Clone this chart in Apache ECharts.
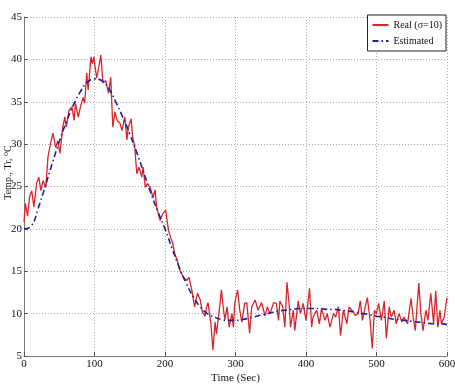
<!DOCTYPE html>
<html>
<head>
<meta charset="utf-8">
<script src="https://cdn.jsdelivr.net/npm/echarts@6/dist/echarts.min.js"></script>
<style>
  html, body { margin: 0; padding: 0; background: #fff; }
  #chart { width: 455px; height: 387px; }
</style>
</head>
<body>
<div id="chart"></div>
<script>
// measured temperature (noisy), time in seconds
const realTime = [
  0, 2, 5, 8, 11, 14, 18, 21, 24, 27, 31, 34, 38, 41, 45, 48, 51, 55, 58, 60,
  64, 68, 71, 73, 77, 80, 84, 86, 89, 91, 95, 97, 99, 103, 105, 109, 112, 116, 120, 123,
  126, 129, 132, 136, 139, 143, 146, 148, 152, 154, 157, 160, 163, 167, 169, 172, 175, 179, 183, 186,
  188, 193, 197, 201, 205, 208, 211, 214, 217, 221, 226, 231, 234, 238, 242, 246, 250, 253, 257, 259,
  261, 265, 268, 271, 273, 277, 280, 283, 285, 288, 291, 295, 297, 299, 303, 306, 309, 313, 316, 320,
  323, 328, 332, 337, 342, 345, 349, 354, 358, 361, 363, 367, 370, 373, 376, 378, 382, 384, 389, 392,
  396, 400, 405, 408, 410, 415, 419, 422, 427, 430, 434, 439, 442, 446, 449, 453, 458, 461, 465, 470,
  474, 477, 480, 484, 487, 491, 494, 497, 500, 503, 507, 511, 514, 518, 521, 525, 528, 532, 536, 539,
  544, 549, 552, 555, 560, 563, 566, 570, 573, 577, 581, 584, 587, 590, 592, 596, 600
];
const realTemp = [
  20.8, 23.0, 21.5, 23.8, 24.5, 22.6, 25.4, 26.1, 24.5, 25.7, 24.9, 28.5, 30.2, 31.3, 29.6, 30.4, 28.9, 32.0, 33.2, 32.0,
  34.0, 34.4, 32.8, 34.8, 33.2, 34.4, 35.5, 34.8, 38.4, 36.4, 40.3, 39.5, 40.3, 37.8, 38.6, 40.5, 37.2, 37.5, 36.0, 37.9,
  32.0, 33.8, 32.8, 32.5, 31.6, 33.2, 30.5, 32.0, 33.0, 30.9, 29.7, 26.5, 27.3, 26.1, 27.3, 24.9, 25.3, 24.9, 23.7, 24.6,
  22.6, 21.0, 21.8, 22.2, 19.8, 19.0, 18.3, 17.0, 16.4, 15.1, 14.3, 13.9, 14.3, 12.8, 10.8, 12.4, 11.6, 10.2, 9.7, 10.8,
  11.3, 8.9, 5.7, 9.0, 7.6, 10.4, 12.8, 10.4, 9.3, 10.8, 8.4, 10.0, 8.4, 11.3, 12.8, 10.4, 9.0, 11.2, 11.3, 7.7,
  10.8, 11.6, 10.4, 11.3, 9.7, 10.8, 10.0, 11.3, 11.2, 9.2, 11.5, 10.8, 8.4, 13.7, 11.2, 8.4, 10.4, 8.0, 11.5, 10.0,
  11.2, 9.2, 13.0, 8.4, 9.6, 10.4, 8.8, 10.6, 9.2, 10.0, 8.4, 10.0, 9.6, 10.8, 7.4, 10.4, 8.8, 10.8, 10.4, 9.8,
  10.0, 11.5, 9.2, 10.8, 11.9, 9.2, 5.9, 10.4, 10.0, 11.2, 9.2, 11.5, 7.1, 10.8, 9.6, 10.4, 8.8, 10.0, 9.0, 9.6,
  8.8, 11.8, 9.6, 8.0, 13.6, 10.0, 8.0, 10.4, 9.2, 12.4, 8.8, 12.7, 8.4, 10.4, 8.8, 9.6, 11.9
];

// estimated temperature
const estTime = [
  0, 10, 20, 30, 40, 50, 60, 70, 80, 90, 100, 110, 120, 130, 140, 150, 160, 170, 180, 190,
  200, 210, 220, 230, 240, 250, 260, 270, 280, 290, 300, 310, 320, 330, 340, 350, 360, 370, 380, 390,
  400, 410, 420, 430, 440, 450, 460, 470, 480, 490, 500, 510, 520, 530, 540, 550, 560, 570, 580, 590, 600
];
const estTemp = [
  20.0, 20.3, 22.4, 25.0, 27.7, 30.3, 32.6, 34.6, 36.2, 37.3, 37.7, 37.5, 36.6, 35.0, 33.2, 31.2, 29.0, 26.6, 24.2, 22.0,
  20.0, 17.7, 15.5, 13.6, 12.0, 10.8, 10.0, 9.6, 9.3, 9.2, 9.2, 9.3, 9.5, 9.7, 9.9, 10.1, 10.3, 10.4, 10.5, 10.6,
  10.6, 10.6, 10.6, 10.5, 10.5, 10.4, 10.3, 10.2, 10.0, 9.9, 9.7, 9.6, 9.4, 9.3, 9.2, 9.1, 9.0, 8.9, 8.8, 8.8, 8.7
];

const xTicks = [0, 100, 200, 300, 400, 500, 600];
const yTicks = [5, 10, 15, 20, 25, 30, 35, 40, 45];

const chart = echarts.init(document.getElementById('chart'));
const serif = '"Liberation Serif", "DejaVu Serif", serif';

const gridLine = { show: true, lineStyle: { color: '#a8a8a8', type: [1, 2], width: 1 } };
const axisLine = { show: true, lineStyle: { color: '#7a7a7a', width: 1 } };

chart.setOption({
  animation: false,
  backgroundColor: '#fff',
  grid: { left: 24, right: 8, top: 17, bottom: 31, containLabel: false, outerBoundsMode: 'none' },
  legend: {
    orient: 'vertical',
    right: 9,
    top: 15,
    itemWidth: 16,
    itemHeight: 8,
    itemGap: 6,
    padding: [5, 4, 5, 4],
    backgroundColor: '#fff',
    borderColor: '#222',
    borderWidth: 1,
    itemStyle: { opacity: 0 },
    textStyle: { fontFamily: serif, fontSize: 10, color: '#111' },
    data: ['Real (σ=10)', 'Estimated']
  },
  xAxis: {
    type: 'value',
    min: xTicks[0],
    max: xTicks[xTicks.length - 1],
    interval: 100,
    name: 'Time (Sec)',
    nameLocation: 'middle',
    nameGap: 17,
    nameMoveOverlap: false,
    nameTextStyle: { fontFamily: serif, fontSize: 11, color: '#111' },
    axisLine: axisLine,
    axisTick: { show: true, inside: true, length: 4, lineStyle: { color: '#555' } },
    axisLabel: { fontFamily: serif, fontSize: 11, color: '#111', margin: 3 },
    splitLine: gridLine
  },
  yAxis: {
    type: 'value',
    min: yTicks[0],
    max: yTicks[yTicks.length - 1],
    interval: 5,
    name: 'Temp., Tr, ⁰C',
    nameLocation: 'middle',
    nameGap: 11,
    nameMoveOverlap: false,
    nameTextStyle: { fontFamily: serif, fontSize: 10, color: '#111', padding: [0, 0, 0, 28] },
    axisLine: axisLine,
    axisTick: { show: true, inside: true, length: 4, lineStyle: { color: '#555' } },
    axisLabel: { fontFamily: serif, fontSize: 11, color: '#111', margin: 2 },
    splitLine: gridLine
  },
  series: [
    {
      name: 'Real (σ=10)',
      type: 'line',
      symbol: 'none',
      data: realTime.map((t, i) => [t, realTemp[i]]),
      itemStyle: { color: '#d8252a' },
      lineStyle: { color: '#d8252a', width: 1.3 },
      z: 2
    },
    {
      name: 'Estimated',
      type: 'line',
      symbol: 'none',
      smooth: true,
      data: estTime.map((t, i) => [t, estTemp[i]]),
      itemStyle: { color: '#1e1e9a' },
      lineStyle: { color: '#1e1e9a', width: 1.6, type: [6, 3, 1.5, 3] },
      z: 3
    }
  ]
});
</script>
</body>
</html>
